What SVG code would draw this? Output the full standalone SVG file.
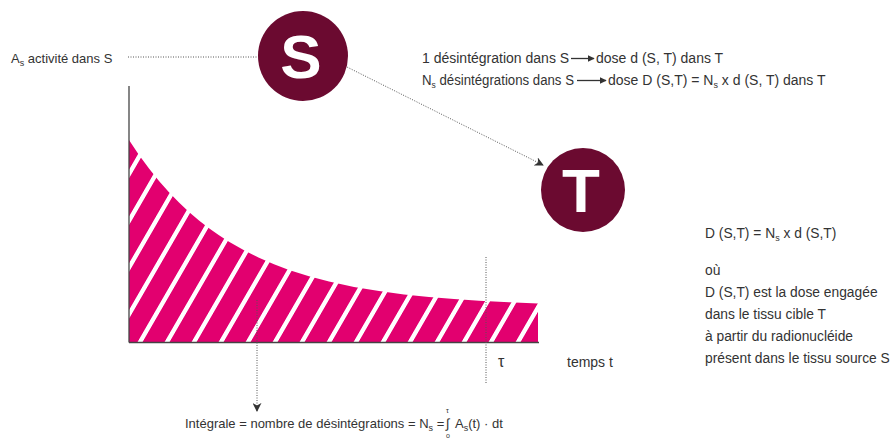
<svg xmlns="http://www.w3.org/2000/svg" width="891" height="439" viewBox="0 0 891 439">
<style>
  .t { font-family: "Liberation Sans", Arial, sans-serif; fill: #333333; }
  .sub { font-size: 9px; }
  .big { font-family: "Liberation Sans", Arial, sans-serif; font-weight: bold; fill: #ffffff; text-anchor: middle; }
  .dot { fill: none; stroke: #555555; stroke-width: 1; stroke-dasharray: 1 1.5; }
  .axis { stroke: #444444; stroke-width: 1.3; fill: none; }
</style>
<defs>
  <pattern id="stripes" patternUnits="userSpaceOnUse" width="27" height="27" patternTransform="skewX(-30)">
    <rect x="0" y="0" width="27" height="27" fill="#e2006f"/>
    <rect x="11" y="0" width="5" height="27" fill="#ffffff"/>
  </pattern>
  <marker id="ah" viewBox="0 0 10 10" refX="9" refY="5" markerWidth="7" markerHeight="7" orient="auto" markerUnits="userSpaceOnUse">
    <path d="M0,0 L10,5 L0,10 Z" fill="#333333"/>
  </marker>
  <marker id="ahd" viewBox="0 0 10 10" refX="9" refY="5" markerWidth="9" markerHeight="9" orient="auto" markerUnits="userSpaceOnUse">
    <path d="M0,0 L10,5 L0,10 L3,5 Z" fill="#333333"/>
  </marker>
</defs>

<g id="chart">
  <path d="M129,140 L139,155 L149,168.6 L159,181 L169,192.3 L179,202.6 L189,212 L199,220.5 L209,228.3 L219,235.3 L229,241.8 L244,250.3 L259,257.8 L274,264.3 L289,269.9 L309,276.2 L329,281.5 L354,286.9 L379,291.1 L404,294.4 L429,297 L454,299.1 L479,300.8 L509,302.3 L538,303.4 L538,342 L129,342 Z" fill="url(#stripes)"/>
  <line class="axis" x1="129" y1="86" x2="129" y2="342.5"/>
  <line class="axis" x1="129" y1="342.5" x2="539" y2="342.5"/>
</g>

<g id="connectors">
  <line class="dot" x1="128" y1="57" x2="258" y2="57"/>
  <line class="dot" x1="345" y1="66" x2="543" y2="165" marker-end="url(#ahd)"/>
  <line class="dot" x1="486" y1="257" x2="486" y2="384"/>
  <line class="dot" x1="257" y1="300" x2="257" y2="411" marker-end="url(#ahd)"/>
</g>

<g id="node-S">
  <circle cx="303" cy="56" r="45" fill="#6b0a30"/>
  <text class="big" x="301" y="78" font-size="62">S</text>
</g>

<g id="node-T">
  <circle cx="583" cy="190" r="42" fill="#6b0a30"/>
  <text class="big" x="581" y="212" font-size="62">T</text>
</g>

<g id="label-As">
  <text class="t" x="11" y="63" font-size="13">A<tspan class="sub" dy="3">s</tspan><tspan dy="-3"> activité dans S</tspan></text>
</g>

<g id="label-top">
  <text class="t" x="422" y="63" font-size="14">1 désintégration dans S</text>
  <line x1="571" y1="58.5" x2="594" y2="58.5" stroke="#333333" stroke-width="1.3" marker-end="url(#ah)"/>
  <text class="t" x="596" y="63" font-size="14">dose d (S, T) dans T</text>
  <text class="t" x="422" y="85" font-size="14" textLength="152" lengthAdjust="spacingAndGlyphs">N<tspan class="sub" dy="3">s</tspan><tspan dy="-3"> désintégrations dans S</tspan></text>
  <line x1="577" y1="80.5" x2="606" y2="80.5" stroke="#333333" stroke-width="1.3" marker-end="url(#ah)"/>
  <text class="t" x="608" y="85" font-size="14">dose D (S,T) = N<tspan class="sub" dy="3">s</tspan><tspan dy="-3"> x d (S, T) dans T</tspan></text>
</g>

<g id="label-axis">
  <text class="t" x="498" y="367" font-size="16">τ</text>
  <text class="t" x="567" y="367" font-size="14">temps t</text>
</g>

<g id="label-right">
  <text class="t" x="705" y="238" font-size="13.8">D (S,T) = N<tspan class="sub" dy="3">s</tspan><tspan dy="-3"> x d (S,T)</tspan></text>
  <text class="t" x="705" y="275" font-size="13.8">où</text>
  <text class="t" x="705" y="297" font-size="13.8">D (S,T) est la dose engagée</text>
  <text class="t" x="705" y="319" font-size="13.8">dans le tissu cible T</text>
  <text class="t" x="705" y="341" font-size="13.8">à partir du radionucléide</text>
  <text class="t" x="705" y="363" font-size="13.8">présent dans le tissu source S</text>
</g>

<g id="label-bottom">
  <text class="t" x="185" y="428" font-size="13">Intégrale = nombre de désintégrations = N<tspan class="sub" dy="3">s</tspan><tspan dy="-3"> =</tspan></text>
  <text class="t" x="446" y="428" font-size="13">∫</text>
  <text class="t" x="446" y="413" font-size="7">τ</text>
  <text class="t" x="446" y="438" font-size="7">o</text>
  <text class="t" x="455" y="428" font-size="13">A<tspan class="sub" dy="3">s</tspan><tspan dy="-3">(t) · dt</tspan></text>
</g>
</svg>
